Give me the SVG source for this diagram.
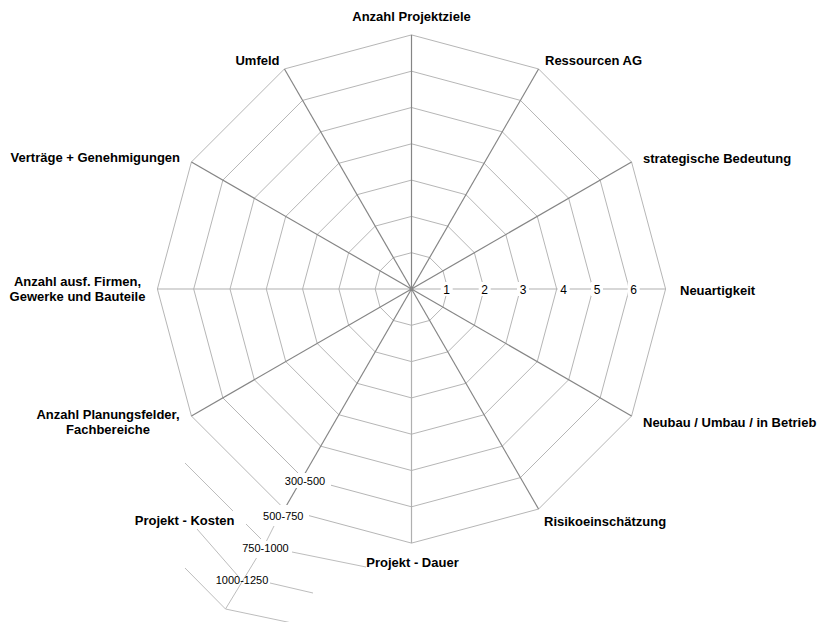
<svg xmlns="http://www.w3.org/2000/svg" width="824" height="622" viewBox="0 0 824 622">
<style>
.ring{fill:none;stroke:#b6b6b6;stroke-width:1}
.spoke{stroke:#858585;stroke-width:1.2}
.spoke-l{stroke:#b0b0b0;stroke-width:1.2}
.ext{fill:none;stroke:#bdbdbd;stroke-width:1}
.cat{font-family:"Liberation Sans",Arial,sans-serif;font-size:13px;font-weight:bold;fill:#000}
.num{font-family:"Liberation Sans",Arial,sans-serif;font-size:12px;fill:#000;text-anchor:middle}
.rng{font-family:"Liberation Sans",Arial,sans-serif;font-size:11px;fill:#000;text-anchor:middle}
.bg{fill:#fff}
</style>
<rect width="824" height="622" fill="#fff"/>
<g id="grid" transform="translate(411.5 289)">
<polygon class="ring" points="0,-36.3 18.15,-31.44 31.44,-18.15 36.3,0 31.44,18.15 18.15,31.44 0,36.3 -18.15,31.44 -31.44,18.15 -36.3,0 -31.44,-18.15 -18.15,-31.44"/>
<polygon class="ring" points="0,-72.6 36.3,-62.87 62.87,-36.3 72.6,0 62.87,36.3 36.3,62.87 0,72.6 -36.3,62.87 -62.87,36.3 -72.6,0 -62.87,-36.3 -36.3,-62.87"/>
<polygon class="ring" points="0,-108.9 54.45,-94.31 94.31,-54.45 108.9,0 94.31,54.45 54.45,94.31 0,108.9 -54.45,94.31 -94.31,54.45 -108.9,0 -94.31,-54.45 -54.45,-94.31"/>
<polygon class="ring" points="0,-145.2 72.6,-125.75 125.75,-72.6 145.2,0 125.75,72.6 72.6,125.75 0,145.2 -72.6,125.75 -125.75,72.6 -145.2,0 -125.75,-72.6 -72.6,-125.75"/>
<polygon class="ring" points="0,-181.5 90.75,-157.18 157.18,-90.75 181.5,0 157.18,90.75 90.75,157.18 0,181.5 -90.75,157.18 -157.18,90.75 -181.5,0 -157.18,-90.75 -90.75,-157.18"/>
<polygon class="ring" points="0,-217.8 108.9,-188.62 188.62,-108.9 217.8,0 188.62,108.9 108.9,188.62 0,217.8 -108.9,188.62 -188.62,108.9 -217.8,0 -188.62,-108.9 -108.9,-188.62"/>
<polygon class="ring" points="0,-254.1 127.05,-220.06 220.06,-127.05 254.1,0 220.06,127.05 127.05,220.06 0,254.1 -127.05,220.06 -220.06,127.05 -254.1,0 -220.06,-127.05 -127.05,-220.06"/>
</g>
<g id="connectors" transform="translate(411.5 289)">
<line class="spoke-l" x1="0" y1="0" x2="254.1" y2="0"/>
<line class="spoke-l" x1="0" y1="0" x2="0" y2="254.1"/>
<line class="spoke-l" x1="0" y1="0" x2="-254.1" y2="0"/>
<line class="spoke" x1="0" y1="0" x2="0" y2="-254.1"/>
<line class="spoke" x1="0" y1="0" x2="127.05" y2="-220.06"/>
<line class="spoke" x1="0" y1="0" x2="220.06" y2="-127.05"/>
<line class="spoke" x1="0" y1="0" x2="220.06" y2="127.05"/>
<line class="spoke" x1="0" y1="0" x2="127.05" y2="220.06"/>
<line class="spoke" x1="0" y1="0" x2="-127.05" y2="220.06"/>
<line class="spoke" x1="0" y1="0" x2="-220.06" y2="127.05"/>
<line class="spoke" x1="0" y1="0" x2="-220.06" y2="-127.05"/>
<line class="spoke" x1="0" y1="0" x2="-127.05" y2="-220.06"/>
<circle cx="0" cy="0" r="2" fill="#858585"/>
</g>
<g id="cost-scale">
<line class="ext" x1="185" y1="463" x2="233" y2="511"/>
<line class="ext" x1="246" y1="524" x2="261" y2="539"/>
<line class="ext" x1="292" y1="552" x2="366" y2="567"/>
<line class="ext" x1="197" y1="529" x2="238" y2="576"/>
<line class="ext" x1="270" y1="583" x2="313" y2="593"/>
<line class="ext" x1="185" y1="568" x2="225.5" y2="609"/>
<line class="ext" x1="225.5" y1="609" x2="292" y2="623"/>
<line class="ext" x1="274" y1="526" x2="266.5" y2="541"/>
<line class="ext" x1="256.5" y1="558" x2="225.5" y2="609"/>
<rect class="bg" x="283" y="473" width="48" height="15"/>
<rect class="bg" x="260" y="505" width="49" height="19"/>
<text class="rng" x="305" y="485">300-500</text>
<text class="rng" x="283.3" y="520">500-750</text>
<text class="rng" x="265.5" y="552">750-1000</text>
<text class="rng" x="242" y="584">1000-1250</text>
</g>
<g id="value-scale">
<rect class="bg" x="440.7" y="282" width="12" height="14"/>
<rect class="bg" x="478.7" y="282" width="12" height="14"/>
<rect class="bg" x="517" y="282" width="12" height="14"/>
<rect class="bg" x="557.7" y="282" width="12" height="14"/>
<rect class="bg" x="591" y="282" width="12" height="14"/>
<rect class="bg" x="627.7" y="282" width="12" height="14"/>
<text class="num" x="446.7" y="293.5">1</text>
<text class="num" x="484.7" y="293.5">2</text>
<text class="num" x="523" y="293.5">3</text>
<text class="num" x="563.7" y="293.5">4</text>
<text class="num" x="597" y="293.5">5</text>
<text class="num" x="633.7" y="293.5">6</text>
</g>
<g id="n-projektziele"><text class="cat" x="411.5" y="21" text-anchor="middle">Anzahl Projektziele</text></g>
<g id="n-ressourcen"><text class="cat" x="545" y="64.5">Ressourcen AG</text></g>
<g id="n-strategisch"><text class="cat" x="643" y="163">strategische Bedeutung</text></g>
<g id="n-neuartigkeit"><text class="cat" x="680" y="294.5">Neuartigkeit</text></g>
<g id="n-neubau"><text class="cat" x="643" y="427">Neubau / Umbau / in Betrieb</text></g>
<g id="n-risiko"><text class="cat" x="544" y="525.5">Risikoeinschätzung</text></g>
<g id="n-dauer"><text class="cat" x="412.5" y="566.5" text-anchor="middle">Projekt - Dauer</text></g>
<g id="n-kosten"><text class="cat" x="234.5" y="525" text-anchor="end">Projekt - Kosten</text></g>
<g id="n-planung"><text class="cat" x="108" y="419" text-anchor="middle">Anzahl Planungsfelder,</text><text class="cat" x="108" y="434" text-anchor="middle">Fachbereiche</text></g>
<g id="n-firmen"><text class="cat" x="77.5" y="285.5" text-anchor="middle">Anzahl ausf. Firmen,</text><text class="cat" x="77.5" y="300.5" text-anchor="middle">Gewerke und Bauteile</text></g>
<g id="n-vertraege"><text class="cat" x="180" y="162" text-anchor="end">Verträge + Genehmigungen</text></g>
<g id="n-umfeld"><text class="cat" x="279.5" y="64.5" text-anchor="end">Umfeld</text></g>
</svg>
